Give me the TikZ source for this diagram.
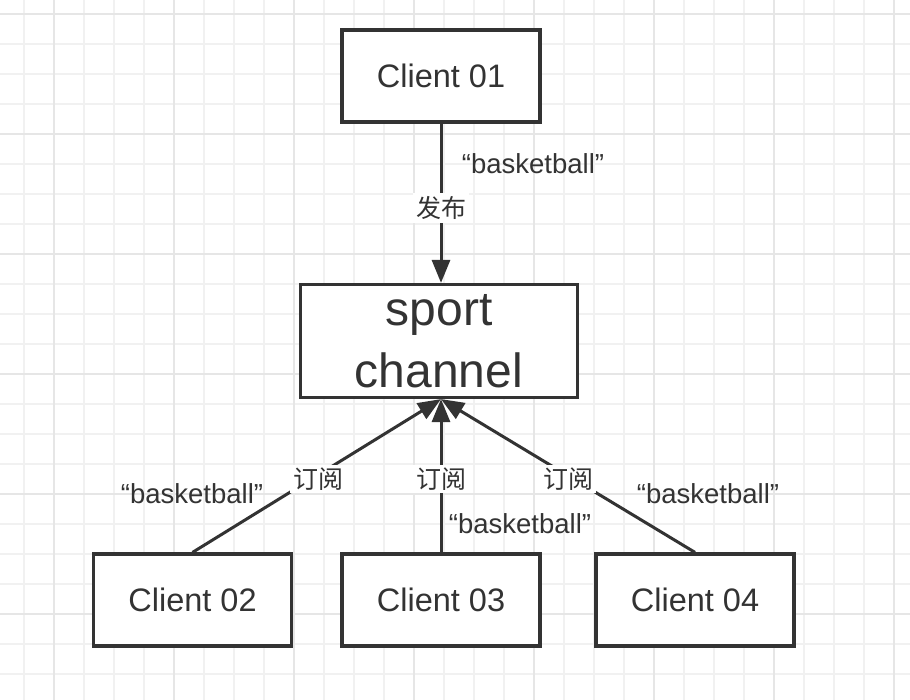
\documentclass[tikz,border=0pt]{standalone}
\usepackage{fontspec}
\setmainfont{Liberation Sans}
\newfontfamily\cjk{Noto Sans CJK SC}
\usetikzlibrary{arrows.meta}
\definecolor{ink}{HTML}{333333}
\definecolor{gridminor}{HTML}{F1F1F1}
\definecolor{gridmajor}{HTML}{E6E6E6}
\tikzset{
  box/.style={draw=ink, line width=3.2pt, fill=white, rectangle, text=ink, inner sep=0pt},
  client/.style={box, minimum width=198pt, minimum height=92pt, font=\fontsize{32.5}{38}\selectfont},
  link/.style={draw=ink, line width=3pt, -{Triangle[length=23pt,width=18pt]}},
  cnlabel/.style={fill=white, text=ink, inner sep=3pt, font=\cjk\fontsize{25}{29}\selectfont},
  msg/.style={text=ink, inner sep=0pt, font=\fontsize{27.5}{32}\selectfont}
}
\begin{document}
\begin{tikzpicture}[x=1pt,y=-1pt]
\useasboundingbox (0,0) rectangle (910,700);
\fill[white] (0,0) rectangle (910,700);
% grid
\foreach \gx in {24,54,...,910} \draw[gridminor, line width=1.8pt] (\gx,0) -- (\gx,700);
\foreach \gy in {14,44,...,700} \draw[gridminor, line width=1.8pt] (0,\gy) -- (910,\gy);
\foreach \gx in {54,174,...,910} \draw[gridmajor, line width=1.8pt] (\gx,0) -- (\gx,700);
\foreach \gy in {14,134,...,700} \draw[gridmajor, line width=1.8pt] (0,\gy) -- (910,\gy);
% nodes
\node[client] (c1) at (441,76) {Client 01};
\node[box, minimum width=277pt, minimum height=113pt, align=center,
      font=\fontsize{48}{62}\selectfont] (sport) at (439,341) {sport\\channel};
\node[client] (c2) at (192.5,600) {Client 02};
\node[client] (c3) at (441,600) {Client 03};
\node[client] (c4) at (695,600) {Client 04};
\coordinate (tip) at (c3.north |- sport.south);
% connectors
\draw[link] (c1.south) -- (c1.south |- sport.north);
\draw[link] (c2.north) -- (tip);
\draw[link] (c3.north) -- (tip);
\draw[link] (c4.north) -- (tip);
% labels
\node[cnlabel] (l1) at (441,208) {发布};
\node[msg] (m1) at (533,164) {“basketball”};
\node[cnlabel] (l2) at (318,479) {订阅};
\node[cnlabel] (l3) at (441,479) {订阅};
\node[cnlabel] (l4) at (568,479) {订阅};
\node[msg] (m2) at (192,494) {“basketball”};
\node[msg] (m3) at (520,524) {“basketball”};
\node[msg] (m4) at (708,494) {“basketball”};
\end{tikzpicture}
\end{document}
